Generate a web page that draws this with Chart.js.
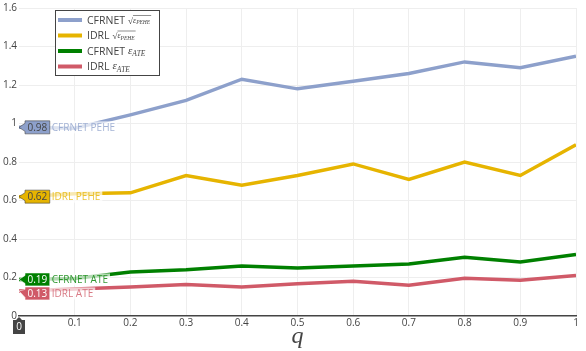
<!DOCTYPE html>
<html>
<head>
<meta charset="utf-8">
<script src="https://cdn.jsdelivr.net/npm/chart.js@4.4.1/dist/chart.umd.min.js"></script>
<style>
  html, body { margin: 0; padding: 0; background: #fff; }
  #wrap { width: 586px; height: 351px; }
</style>
</head>
<body>
<div id="wrap"><canvas id="qChart" width="586" height="351"></canvas></div>
<script>
// values
const qValues = [0, 0.1, 0.2, 0.3, 0.4, 0.5, 0.6, 0.7, 0.8, 0.9, 1];
const cfrnetPehe = [0.98, 0.975, 1.045, 1.12, 1.23, 1.18, 1.22, 1.26, 1.32, 1.29, 1.35];
const idrlPehe = [0.62, 0.635, 0.64, 0.73, 0.68, 0.73, 0.79, 0.71, 0.80, 0.73, 0.89];
const cfrnetAte = [0.19, 0.195, 0.228, 0.24, 0.26, 0.25, 0.26, 0.27, 0.305, 0.28, 0.32];
const idrlAte = [0.13, 0.14, 0.151, 0.163, 0.151, 0.168, 0.18, 0.16, 0.196, 0.186, 0.21];
const xTicks = [0, 0.1, 0.2, 0.3, 0.4, 0.5, 0.6, 0.7, 0.8, 0.9, 1];
const yTicks = [0, 0.2, 0.4, 0.6, 0.8, 1, 1.2, 1.4, 1.6];

const series = [
    { name: 'CFRNET', metric: 'pehe', hover: 'CFRNET PEHE', values: cfrnetPehe, color: '#8da0cb', ink: '#444' },
    { name: 'IDRL', metric: 'pehe', hover: 'IDRL PEHE', values: idrlPehe, color: '#e6b400', ink: '#444' },
    { name: 'CFRNET', metric: 'ate', hover: 'CFRNET ATE', values: cfrnetAte, color: '#008000', ink: '#fff' },
    { name: 'IDRL', metric: 'ate', hover: 'IDRL ATE', values: idrlAte, color: '#d05a68', ink: '#fff' }
];

const fmt = v => String(Math.round(v * 10) / 10);

// hover boxes at q = 0, like the plotly tooltip in the picture
const hoverLabels = {
    id: 'hoverLabels',
    afterDatasetsDraw(chart) {
        const ctx = chart.ctx;
        const items = series.map((s, i) => {
            const pt = chart.getDatasetMeta(i).data[0];
            return { s, x: pt.x, y: pt.y, by: pt.y };
        });
        // push overlapping boxes apart
        const sorted = [...items].sort((a, b) => a.y - b.y);
        for (let i = 1; i < sorted.length; i++) {
            if (sorted[i].by - sorted[i - 1].by < 14) sorted[i].by = sorted[i - 1].by + 14;
        }
        ctx.save();
        ctx.font = '10px "Open Sans"';
        ctx.textBaseline = 'middle';
        items.forEach(it => {
            const text = it.s.values[0].toFixed(2);
            const w = ctx.measureText(text).width + 5;
            const h = 13;
            const bx = it.x + 6;
            // faded backdrop under the trace name
            const nw = ctx.measureText(it.s.hover).width;
            ctx.fillStyle = 'rgba(255,255,255,0.7)';
            ctx.fillRect(bx + w, it.by - 6, nw + 4, 12);
            ctx.beginPath();
            ctx.moveTo(it.x, it.y);
            ctx.lineTo(bx, it.by - 4);
            ctx.lineTo(bx, it.by - h / 2);
            ctx.lineTo(bx + w, it.by - h / 2);
            ctx.lineTo(bx + w, it.by + h / 2);
            ctx.lineTo(bx, it.by + h / 2);
            ctx.lineTo(bx, it.by + 4);
            ctx.closePath();
            ctx.fillStyle = it.s.color;
            ctx.fill();
            ctx.lineWidth = 0.6;
            ctx.strokeStyle = it.s.ink;
            ctx.stroke();
            ctx.fillStyle = it.s.ink;
            ctx.textAlign = 'center';
            ctx.fillText(text, bx + w / 2, it.by + 0.5);
            ctx.textAlign = 'left';
            ctx.globalAlpha = 0.8;
            ctx.fillStyle = it.s.color;
            ctx.fillText(it.s.hover, bx + w + 2, it.by + 0.5);
            ctx.globalAlpha = 1;
        });

        // spike label on the x axis
        const sx = chart.scales.x.getPixelForValue(qValues[0]);
        const sy = chart.chartArea.bottom;
        ctx.beginPath();
        ctx.moveTo(sx, sy + 1);
        ctx.lineTo(sx + 3, sy + 4);
        ctx.lineTo(sx + 6, sy + 4);
        ctx.lineTo(sx + 6, sy + 18);
        ctx.lineTo(sx - 6, sy + 18);
        ctx.lineTo(sx - 6, sy + 4);
        ctx.lineTo(sx - 3, sy + 4);
        ctx.closePath();
        ctx.fillStyle = '#444';
        ctx.fill();
        ctx.fillStyle = '#fff';
        ctx.textAlign = 'center';
        ctx.fillText(fmt(qValues[0]), sx, sy + 11.5);
        ctx.restore();
    }
};

// legend box with the math symbols
const mathLegend = {
    id: 'mathLegend',
    afterDraw(chart) {
        const ctx = chart.ctx;
        const left = 55, top = 10, width = 104, rowH = 15.5;
        ctx.save();
        ctx.fillStyle = '#fff';
        ctx.fillRect(left, top, width, rowH * series.length + 3);
        ctx.strokeStyle = '#444';
        ctx.lineWidth = 1;
        ctx.strokeRect(left + 0.5, top + 0.5, width, rowH * series.length + 3);
        ctx.textBaseline = 'alphabetic';
        series.forEach((s, i) => {
            const cy = top + 10 + i * rowH;
            ctx.strokeStyle = s.color;
            ctx.lineWidth = 4;
            ctx.beginPath();
            ctx.moveTo(left + 3, cy);
            ctx.lineTo(left + 27, cy);
            ctx.stroke();
            ctx.fillStyle = '#444';
            ctx.font = '10.5px "Open Sans"';
            let x = left + 32;
            ctx.fillText(s.name, x, cy + 3.5);
            x += ctx.measureText(s.name).width + 3;
            if (s.metric === 'pehe') {
                ctx.font = '9px "Liberation Serif"';
                ctx.fillText('\u221A', x, cy + 3.5);
                x += ctx.measureText('\u221A').width;
                const x0 = x;
                ctx.font = 'italic 8px "Liberation Serif"';
                ctx.fillText('\u03B5', x, cy + 2.5);
                x += ctx.measureText('\u03B5').width;
                ctx.font = 'italic 5.5px "Liberation Serif"';
                ctx.fillText('PEHE', x, cy + 4);
                x += ctx.measureText('PEHE').width;
                ctx.lineWidth = 0.6;
                ctx.strokeStyle = '#444';
                ctx.beginPath();
                ctx.moveTo(x0, cy - 4.5);
                ctx.lineTo(x + 1, cy - 4.5);
                ctx.stroke();
            } else {
                ctx.font = 'italic 11px "Liberation Serif"';
                ctx.fillText('\u03B5', x, cy + 2.5);
                x += ctx.measureText('\u03B5').width;
                ctx.font = 'italic 7.5px "Liberation Serif"';
                ctx.fillText('ATE', x, cy + 5);
            }
        });
        ctx.restore();
    }
};

const ctx = document.getElementById('qChart');

const qChart = new Chart(ctx, {
    type: 'line',
    data: {
        datasets: series.map(s => ({
            label: s.hover,
            data: qValues.map((q, i) => ({ x: q, y: s.values[i] })),
            borderColor: s.color,
            backgroundColor: s.color,
            borderWidth: 3.5,
            pointRadius: 0,
            tension: 0,
            fill: false
        }))
    },
    options: {
        responsive: false,
        animation: false,
        layout: {
            padding: { top: 6, right: 10, left: 0, bottom: 0 }
        },
        plugins: {
            legend: { display: false },
            tooltip: { enabled: false }
        },
        scales: {
            x: {
                type: 'linear',
                min: 0,
                max: 1,
                afterBuildTicks: scale => { scale.ticks = xTicks.map(v => ({ value: v })); },
                afterFit: scale => { scale.height = 35; },
                ticks: {
                    color: '#444',
                    font: { family: 'Open Sans', size: 10 },
                    padding: 1,
                    maxRotation: 0,
                    callback: v => fmt(v)
                },
                grid: {
                    color: c => (c.tick && c.tick.value === 0 ? 'rgba(0,0,0,0)' : '#eee'),
                    drawTicks: false
                },
                border: { display: true, color: '#444', width: 1.5 },
                title: {
                    display: true,
                    text: 'q',
                    color: '#444',
                    font: { family: 'Liberation Serif', style: 'italic', size: 24 },
                    padding: { top: 0, bottom: 0 }
                }
            },
            y: {
                min: 0,
                max: 1.6,
                afterBuildTicks: scale => { scale.ticks = yTicks.map(v => ({ value: v })); },
                afterFit: scale => { scale.width = 19; },
                ticks: {
                    color: '#444',
                    font: { family: 'Open Sans', size: 10 },
                    padding: 2,
                    callback: v => fmt(v)
                },
                grid: {
                    color: c => (c.tick && c.tick.value === 0 ? 'rgba(0,0,0,0)' : '#eee'),
                    drawTicks: false
                },
                border: { display: false }
            }
        }
    },
    plugins: [hoverLabels, mathLegend]
});
</script>
</body>
</html>
